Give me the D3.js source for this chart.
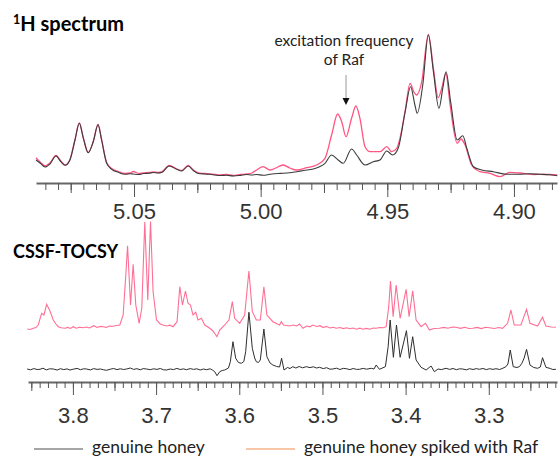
<!DOCTYPE html>
<html>
<head>
<meta charset="utf-8">
<script src="https://cdn.jsdelivr.net/npm/d3@7"></script>
<style>
  body { margin: 0; background: #fff; }
  .tick text { font-family: "Liberation Sans", Arial, sans-serif; fill: #333; }
</style>
</head>
<body>
<div id="chart"></div>
<script>
"use strict";

// 1H spectrum, [ppm, intensity]
var h1Genuine = [[5.0887,20],[5.0871,17],[5.0851,13],[5.0832,16],[5.0808,24],[5.0789,18.3],[5.0772,14.7],[5.0753,20],[5.0733,40],[5.0716,56.7],[5.0700,41.7],[5.0681,27.3],[5.0661,38.3],[5.0642,55.3],[5.0628,40],[5.0608,16.7],[5.0588,10.7],[5.0562,7.7],[5.0536,5.7],[5.0515,6.3],[5.0503,6],[5.0480,5.5],[5.0463,6.5],[5.0440,6.8],[5.0424,7.5],[5.0405,7],[5.0391,7.5],[5.0361,14],[5.0331,10.7],[5.0312,9],[5.0286,14],[5.0266,9.5],[5.0246,6.5],[5.0220,6],[5.0200,5.7],[5.0180,5],[5.0161,4.5],[5.0135,4.8],[5.0108,4],[5.0080,4.6],[5.0055,5.5],[5.0035,5],[5.0016,5.5],[4.9990,4.7],[4.9963,5.7],[4.9932,6.5],[4.9911,6.7],[4.9885,7.2],[4.9858,8.3],[4.9830,9.5],[4.9792,11],[4.9770,13],[4.9746,16.7],[4.9720,25],[4.9694,20],[4.9674,16.7],[4.9641,31],[4.9621,25],[4.9588,15],[4.9555,18.3],[4.9529,20],[4.9502,29],[4.9479,25],[4.9457,31.7],[4.9430,67.5],[4.9408,93.3],[4.9391,75],[4.9382,66.7],[4.9360,95],[4.9338,145],[4.9318,108.3],[4.9296,71.7],[4.9281,91.7],[4.9268,108.3],[4.9250,78.3],[4.9224,40],[4.9202,44.3],[4.9186,31.7],[4.9160,13.3],[4.9127,10],[4.9081,8.3],[4.9029,5.7],[4.8976,5.7],[4.8940,6.2],[4.8897,5.7],[4.8860,5.2],[4.8829,4.3]];

var h1Spiked = [[5.0887,22.3],[5.0871,18],[5.0851,14],[5.0832,17],[5.0808,24.5],[5.0789,19],[5.0772,15],[5.0753,20.5],[5.0733,40.5],[5.0716,57],[5.0700,42],[5.0681,27.5],[5.0661,38.5],[5.0642,55.5],[5.0628,40.5],[5.0608,17.5],[5.0588,11.5],[5.0562,8.5],[5.0536,6.5],[5.0515,7],[5.0503,8.5],[5.0480,6.5],[5.0463,7],[5.0440,7.5],[5.0424,8],[5.0405,7.5],[5.0391,8],[5.0361,14.5],[5.0331,11],[5.0312,9.5],[5.0286,14.5],[5.0266,10],[5.0246,7],[5.0220,6.5],[5.0200,6],[5.0180,5.5],[5.0161,5],[5.0135,5.5],[5.0108,4.5],[5.0080,5.5],[5.0055,6],[5.0035,7],[5.0016,10],[4.9990,13.3],[4.9963,10],[4.9932,13],[4.9911,15],[4.9885,12],[4.9858,10],[4.9818,12.3],[4.9779,15],[4.9746,21.7],[4.9720,45],[4.9696,66],[4.9680,58.3],[4.9663,43.3],[4.9641,61.7],[4.9624,74],[4.9608,61.7],[4.9588,33.3],[4.9568,28.3],[4.9529,28.3],[4.9502,33.3],[4.9483,28.3],[4.9463,31.7],[4.9450,41.7],[4.9430,68.3],[4.9410,96.7],[4.9395,88],[4.9384,85],[4.9364,98.3],[4.9338,145.7],[4.9318,111.7],[4.9299,82.3],[4.9285,91.7],[4.9269,106.7],[4.9252,75],[4.9224,36.7],[4.9209,41],[4.9193,35],[4.9167,15],[4.9134,8.3],[4.9095,6.7],[4.9055,3.3],[4.9016,7.7],[4.8963,6.7],[4.8920,5.5],[4.8897,5.7],[4.8860,5.5],[4.8829,5]];

// CSSF-TOCSY traces, [ppm, intensity]
var tocsyGenuine = [[3.855,11],[3.851,10.2],[3.847,11.4],[3.843,10.5],[3.8396,10.7],[3.836,11.8],[3.832,10.1],[3.828,11.2],[3.8236,11],[3.819,10],[3.815,11.3],[3.811,10.4],[3.807,11.1],[3.8036,10],[3.799,10.9],[3.795,11.6],[3.791,10.3],[3.787,11.2],[3.7836,11],[3.779,10.1],[3.775,11.4],[3.771,10.6],[3.767,11],[3.763,10.2],[3.7596,9.7],[3.755,10.8],[3.751,11.5],[3.747,10.4],[3.743,11.2],[3.739,10.5],[3.7355,11],[3.731,12],[3.727,10.6],[3.723,11.3],[3.719,10.2],[3.7155,11.4],[3.7115,11],[3.707,10.3],[3.703,11.2],[3.699,10.6],[3.695,11.5],[3.691,10.2],[3.6875,10],[3.683,11],[3.679,10.4],[3.675,11.6],[3.671,10.5],[3.667,11.1],[3.6635,10.3],[3.659,11.4],[3.655,10.6],[3.651,11.2],[3.647,10],[3.643,11],[3.6395,10.3],[3.635,11.2],[3.632,9.8],[3.6295,8.3],[3.6268,4.3],[3.6235,8.3],[3.6205,9.5],[3.6175,10],[3.6130,12],[3.6107,18.3],[3.6076,38.3],[3.6043,21.7],[3.6010,17.5],[3.5975,16.7],[3.5945,18.5],[3.5923,28.3],[3.5884,67.7],[3.5843,31.7],[3.5815,22],[3.5795,18.3],[3.5770,17.5],[3.5747,20],[3.5704,51],[3.5668,23.3],[3.5630,17],[3.5596,15],[3.5550,13.5],[3.5515,13],[3.5491,21.7],[3.5462,10],[3.5420,12.5],[3.5390,11.5],[3.5357,13.3],[3.532,12],[3.528,13.5],[3.524,12.2],[3.5195,13.3],[3.515,12.4],[3.511,13.2],[3.507,12],[3.5035,12.7],[3.499,11.4],[3.495,12.3],[3.491,10.8],[3.4875,11],[3.483,11.8],[3.479,10.5],[3.475,11.6],[3.4714,11.3],[3.467,10.4],[3.463,11.5],[3.459,10.6],[3.4555,10.7],[3.451,11.6],[3.447,10.8],[3.4414,11.7],[3.4380,11],[3.4354,15],[3.4315,10.7],[3.4243,13.3],[3.4210,33.3],[3.4186,60],[3.4147,22.7],[3.4110,55],[3.4066,22.7],[3.3990,49.3],[3.3954,21.7],[3.3915,43.3],[3.3874,20],[3.3814,12.7],[3.3754,10],[3.3694,14],[3.3654,8.3],[3.361,11],[3.357,10.4],[3.3514,11.7],[3.347,10.6],[3.343,11.5],[3.339,10.3],[3.335,11.2],[3.3315,11],[3.327,10.2],[3.323,11.3],[3.319,10.5],[3.315,11.4],[3.3114,10.7],[3.307,11.5],[3.303,10.4],[3.299,11.3],[3.295,10.6],[3.2914,11.3],[3.287,10.5],[3.283,11.8],[3.2794,13.3],[3.2770,16],[3.2742,30],[3.2706,13.3],[3.2660,12.5],[3.2630,13.5],[3.2602,16.7],[3.2575,22],[3.2546,30.7],[3.2505,15],[3.2460,12.5],[3.2414,11.7],[3.2380,13],[3.2354,22.3],[3.2313,12.7],[3.2260,11.5],[3.2230,10.5],[3.2193,10.7]];

var tocsySpiked = [[3.855,51],[3.8515,50.5],[3.8477,51.7],[3.8445,52.5],[3.8417,55],[3.8376,66.7],[3.8348,65],[3.8316,75.7],[3.8276,69],[3.8236,60],[3.8205,56],[3.8176,53.3],[3.814,52.2],[3.8096,51.7],[3.806,52.6],[3.803,51.5],[3.7996,53.3],[3.796,51.8],[3.792,52.8],[3.7876,52.3],[3.784,53],[3.780,52],[3.7748,54.3],[3.771,52.5],[3.767,53.6],[3.7636,53.3],[3.760,52.6],[3.756,54],[3.7516,53.7],[3.748,54.5],[3.7436,55],[3.7396,65],[3.7364,105],[3.7343,134.3],[3.7307,75],[3.7276,115.7],[3.7244,75],[3.7204,56.7],[3.7172,71.7],[3.7136,158],[3.7100,80],[3.7067,158.5],[3.7036,88.3],[3.6995,60],[3.6950,56],[3.6916,55],[3.687,54],[3.6835,54.8],[3.6796,53.3],[3.6748,58.3],[3.6715,93.3],[3.6683,75],[3.6647,89],[3.6616,76.7],[3.6587,75],[3.6556,65],[3.6523,67.7],[3.6496,60],[3.6455,61.7],[3.6415,55],[3.6355,51.7],[3.6316,49],[3.6268,43.3],[3.6235,50],[3.6175,55],[3.6124,60],[3.6083,78.3],[3.6055,61.7],[3.5995,56.7],[3.5935,65],[3.5884,109],[3.5843,68.3],[3.5795,60],[3.5747,60],[3.5704,93.3],[3.5668,65],[3.5596,58.3],[3.5515,55],[3.5495,58.3],[3.5468,55],[3.5430,54.5],[3.5396,54],[3.5350,55],[3.5310,54],[3.5275,56],[3.5235,51.7],[3.5190,54],[3.5150,53.2],[3.5115,55],[3.507,53.5],[3.503,54.3],[3.4995,52.7],[3.495,53.4],[3.491,52],[3.487,52.8],[3.4834,51.7],[3.479,52.5],[3.475,51.4],[3.471,52.2],[3.4675,51.3],[3.463,52],[3.459,50.8],[3.455,51.8],[3.4515,50.7],[3.447,51.6],[3.443,50.8],[3.439,52],[3.4354,51.7],[3.431,52.5],[3.4265,52.2],[3.4234,53.3],[3.4203,73.3],[3.4182,99],[3.4150,63.3],[3.4114,95],[3.4066,61.7],[3.3994,90.7],[3.3958,63.3],[3.3915,89.3],[3.3874,60],[3.3814,53.3],[3.3762,56.7],[3.3714,50],[3.3660,51.5],[3.3594,51.7],[3.354,52.6],[3.349,51.8],[3.344,53],[3.3394,52.7],[3.334,51.6],[3.329,52.8],[3.324,51.5],[3.3194,51.7],[3.314,52.6],[3.309,51.4],[3.304,52.8],[3.2994,52.3],[3.2934,51.5],[3.2880,52.5],[3.2834,51.7],[3.2774,56.7],[3.2734,70],[3.2694,55],[3.2614,55],[3.2546,70.7],[3.2505,56.7],[3.2414,54],[3.2354,62.7],[3.2313,54],[3.2250,53],[3.2193,52.7]];

// tick values for the two ppm axes
var topMajor = [5.05, 5.00, 4.95, 4.90];
var topMid = [5.075, 5.025, 4.975, 4.925];
var botMajor = [3.8, 3.7, 3.6, 3.5, 3.4, 3.3];
var botMid = [3.85, 3.75, 3.65, 3.55, 3.45, 3.35, 3.25];

var seriesNames = ["genuine honey", "genuine honey spiked with Raf"];
var excitationPpm = 4.9663;

var W = 558, H = 459;

var svg = d3.select("#chart")
            .append("svg")
              .attr("width", W)
              .attr("height", H);

// ---- top panel: 1H spectrum ----
var xTop = d3.scaleLinear().domain([5.0887, 4.883]).range([36, 557]);
var yTop = d3.scaleLinear().domain([0, 150]).range([180, 30]);

var topMinor = d3.range(5.085, 4.8849, -0.005).map(d => +d.toFixed(3));

var lineTop = d3.line()
                .x(d => xTop(d[0]))
                .y(d => yTop(d[1]))
                .curve(d3.curveMonotoneX);

svg.append("path")
     .datum(h1Spiked)
     .attr("d", lineTop)
     .attr("fill", "none")
     .attr("stroke", "#ff5582")
     .attr("stroke-width", 1.3);

svg.append("path")
     .datum(h1Genuine)
     .attr("d", lineTop)
     .attr("fill", "none")
     .attr("stroke", "#3c3c3c")
     .attr("stroke-width", 1.1);

// axis built from three tick layers (minor / mid / major)
function drawAxis(x, yPos, minor, mid, major, sizes, fmt, pad) {
  var g = svg.append("g").attr("transform", "translate(0," + yPos + ")");
  g.append("g")
     .call(d3.axisBottom(x).tickValues(minor).tickSize(sizes[0]).tickSizeOuter(0).tickFormat(""))
     .call(a => a.select(".domain").attr("stroke", "#666").attr("stroke-width", 2));
  g.append("g")
     .call(d3.axisBottom(x).tickValues(mid).tickSize(sizes[1]).tickFormat(""))
     .call(a => a.select(".domain").remove());
  g.append("g")
     .call(d3.axisBottom(x).tickValues(major).tickSize(sizes[2]).tickPadding(pad).tickFormat(d3.format(fmt)))
     .call(a => a.select(".domain").remove())
     .selectAll("text").style("font-size", "22px");
  g.selectAll(".tick line").attr("stroke", "#555");
}

drawAxis(xTop, 183, topMinor, topMid, topMajor, [7, 10, 14], ".2f", 6);

svg.append("text")
     .attr("x", 13)
     .attr("y", 31)
     .style("font-family", "Lato, sans-serif")
     .style("font-weight", "bold")
     .style("font-size", "20px")
     .call(t => {
       t.append("tspan").text("1").attr("dy", -7).style("font-size", "12.5px");
       t.append("tspan").text("H spectrum").attr("dy", 7);
     });

// annotation for the excitation frequency
var ann = svg.append("g")
             .attr("font-family", "Lato, sans-serif")
             .attr("font-size", "15.5px")
             .attr("fill", "#222")
             .attr("text-anchor", "middle");
ann.append("text").attr("x", xTop(excitationPpm) - 2).attr("y", 46).text("excitation frequency");
ann.append("text").attr("x", xTop(excitationPpm) - 2).attr("y", 65).text("of Raf");
svg.append("line")
     .attr("x1", xTop(excitationPpm)).attr("x2", xTop(excitationPpm))
     .attr("y1", 75).attr("y2", 99)
     .attr("stroke", "#999").attr("stroke-width", 1);
svg.append("path")
     .attr("d", "M" + (xTop(excitationPpm) - 3.5) + ",98 L" + (xTop(excitationPpm) + 3.5) + ",98 L" + xTop(excitationPpm) + ",105 Z")
     .attr("fill", "#111");

// ---- bottom panel: CSSF-TOCSY ----
var xBot = d3.scaleLinear().domain([3.854, 3.218]).range([28, 557]);
var yBot = d3.scaleLinear().domain([0, 160]).range([380, 220]);

var botMinor = d3.range(3.85, 3.2199, -0.01).map(d => +d.toFixed(2));

var lineBot = d3.line()
                .x(d => xBot(d[0]))
                .y(d => yBot(d[1]));

svg.append("path")
     .datum(tocsySpiked)
     .attr("d", lineBot)
     .attr("fill", "none")
     .attr("stroke", "#ff6f95")
     .attr("stroke-width", 1.1);

svg.append("path")
     .datum(tocsyGenuine)
     .attr("d", lineBot)
     .attr("fill", "none")
     .attr("stroke", "#2e2e2e")
     .attr("stroke-width", 1);

drawAxis(xBot, 382, botMinor, botMid, botMajor, [6, 9, 13], ".1f", 12);

svg.append("text")
     .attr("x", 13)
     .attr("y", 258)
     .style("font-family", "Lato, sans-serif")
     .style("font-weight", "bold")
     .style("font-size", "18px")
     .text("CSSF-TOCSY");

// ---- legend (pulled up a little so descenders stay inside) ----
var legendColors = ["#888", "#f7b48a"];
var legendX = [34, 246];
var legend = svg.append("g");
seriesNames.forEach(function(name, i) {
  legend.append("line")
          .attr("x1", legendX[i]).attr("x2", legendX[i] + 49)
          .attr("y1", 449).attr("y2", 449)
          .attr("stroke", legendColors[i])
          .attr("stroke-width", 1.5);
  legend.append("text")
          .attr("x", legendX[i] + 58)
          .attr("y", 453)
          .style("font-family", "Lato, sans-serif")
          .style("font-size", "17.5px")
          .attr("fill", "#222")
          .text(name);
});
</script>
</body>
</html>
